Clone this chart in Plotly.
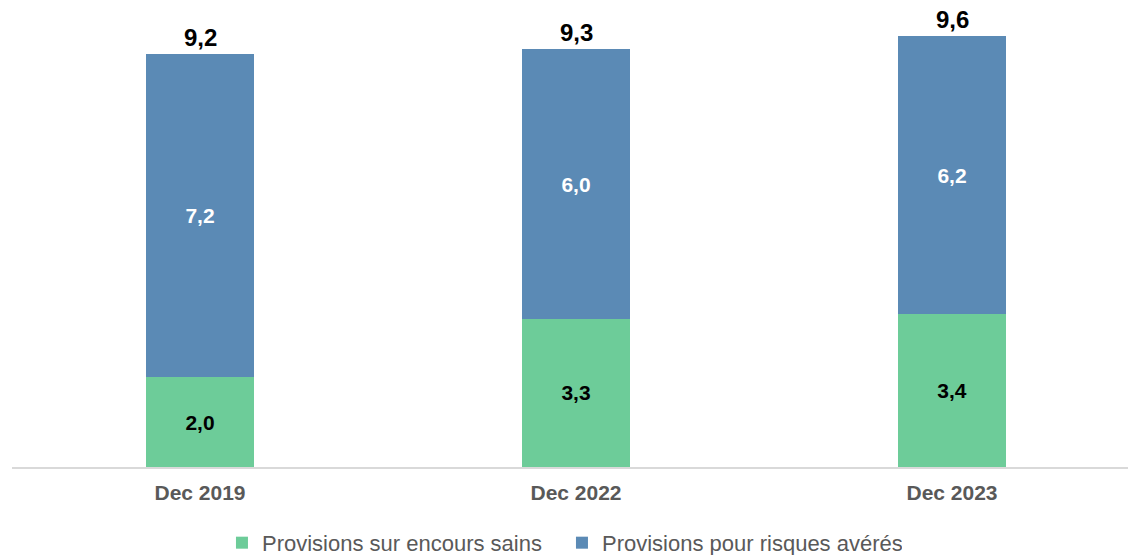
import plotly.graph_objects as go

# data
periods = ["Dec 2019", "Dec 2022", "Dec 2023"]
encours_sains = [2.0, 3.3, 3.4]
risques_averes = [7.2, 6.0, 6.2]
totals = [a + b for a, b in zip(encours_sains, risques_averes)]

GREEN = "#6dcc99"
BLUE = "#5b8ab5"
FONT = "Liberation Sans, Arial, sans-serif"

fig = go.Figure()
fig.add_trace(go.Bar(
    x=periods, y=encours_sains, name="Provisions sur encours sains",
    marker=dict(color=GREEN, line=dict(width=0)), width=0.287,
    texttemplate="<b>%{y:.1f}</b>", textposition="inside", insidetextanchor="middle",
    textfont=dict(color="black", size=21, family=FONT), hoverinfo="skip",
))
fig.add_trace(go.Bar(
    x=periods, y=risques_averes, name="Provisions pour risques avérés",
    marker=dict(color=BLUE, line=dict(width=0)), width=0.287,
    texttemplate="<b>%{y:.1f}</b>", textposition="inside", insidetextanchor="middle",
    textfont=dict(color="white", size=21, family=FONT), hoverinfo="skip",
))

# totals above bars
for p, t in zip(periods, totals):
    fig.add_annotation(x=p, y=t, text=f"<b>{t:.1f}".replace(".", ",") + "</b>",
                       showarrow=False, yanchor="bottom", yshift=1,
                       font=dict(size=24, color="black", family=FONT))

fig.update_layout(
    barmode="stack",
    separators=", ",
    width=1128, height=555,
    margin=dict(l=12, r=0, t=18, b=88, autoexpand=False),
    plot_bgcolor="white", paper_bgcolor="white",
    font=dict(family=FONT),
    showlegend=True,
    legend=dict(orientation="h", x=0.4928, xanchor="center", y=-0.169, yanchor="middle",
                font=dict(size=22, color="#595959", family=FONT),
                traceorder="normal", itemwidth=30, entrywidth=295),
)
fig.update_xaxes(range=[-0.5, 2.5 - 12 / 376], showline=True, linecolor="#d9d9d9", linewidth=2,
                 ticks="", tickfont=dict(size=21, color="#595959", family=FONT),
                 ticklabelstandoff=6,
                 tickprefix="<b>", ticksuffix="</b>", showgrid=False)
fig.update_yaxes(range=[0, 10], visible=False, showgrid=False)

fig.write_html("out.html", config={"displayModeBar": False},
               post_script="document.body.style.margin='0';")
